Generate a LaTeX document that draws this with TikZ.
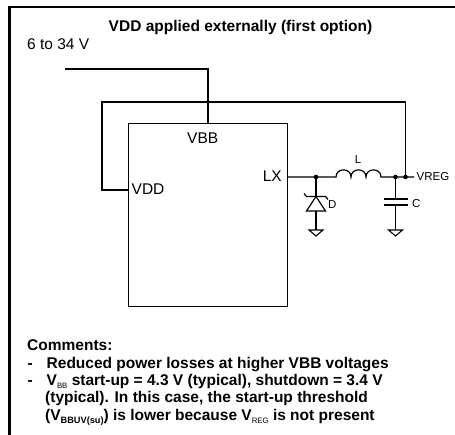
\documentclass[tikz,border=0pt]{standalone}
\usepackage{fontspec}
\setmainfont{Liberation Sans}
\newcommand\mysubr[1]{\raisebox{-3pt}{\fontsize{7.8}{8}\selectfont\mdseries #1}}
\newcommand\mysubb[1]{\raisebox{-3pt}{\fontsize{9.2}{9}\selectfont\bfseries #1}}
\tikzset{
  wire/.style={line width=1.2pt, line join=miter},
  txt/.style={inner sep=0pt, font=\fontsize{15.5}{17}\selectfont},
  smalltxt/.style={inner sep=0pt, font=\fontsize{11.5}{12}\selectfont},
  jdot/.style={circle, fill=black, inner sep=0pt, minimum size=4.6pt},
  gnd/.style={line width=1.1pt, line join=miter}
}
\begin{document}
\begin{tikzpicture}[x=1pt,y=-1pt]
\useasboundingbox (0,0) rectangle (455,435);
% frame
\draw[line width=2.2pt] (9.5,440) -- (9.5,7.2) -- (460,7.2);
% texts
\node[txt, anchor=base] (title) at (240.5,32) {\bfseries VDD applied externally (first option)};
\node[txt, anchor=base west] (supply) at (27,50) {6 to 34 V};
% chip
\node[draw, wire, minimum width=159pt, minimum height=183pt, inner sep=0pt, anchor=north west] (chip) at (128,123) {};
\node[txt, anchor=base west] (vbbl) at (187,144) {VBB};
\node[txt, anchor=base west] (vddl) at (131.5,195) {VDD};
\node[txt, anchor=base east] (lxl) at (282,181.5) {LX};
% coordinates
\coordinate (vin) at (65,69);
\coordinate (vbbpin) at (208,123);
\coordinate (vddpin) at (128,190);
\coordinate (loopbl) at (102,190);
\coordinate (looptl) at (102,102);
\coordinate (looptr) at (405.5,102);
\coordinate (lxpin) at (287,177);
\coordinate (jd) at (316,177);
\coordinate (lstart) at (336,177);
\coordinate (jc) at (395.5,177);
\coordinate (jv) at (405.5,177);
\coordinate (vregend) at (414,177);
% wires
\draw[wire] (vin) -| (vbbpin);
\draw[wire] (vddpin) -- (loopbl) -- (looptl) -- (looptr) -- (jv);
\draw[wire] (lxpin) -- (lstart)
  .. controls +(0,-9.5) and +(0,-9.5) .. ++(15,0)
  .. controls +(0,-9.5) and +(0,-9.5) .. ++(15,0)
  .. controls +(0,-9.5) and +(0,-9.5) .. ++(15,0)
  -- (jv) -- (vregend);
% diode
\coordinate (dk) at (316,196.5);
\coordinate (da) at (316,211);
\coordinate (dg) at (316,230);
\draw[wire] (jd) -- (dk);
\draw[wire] (dk) -- (306.5,211) -- (325.5,211) -- cycle;
\draw[wire] (304,193.5) -- (306.5,196.5) -- (325.5,196.5) -- (328,199.5);
\draw[wire] (da) -- (dg);
\draw[gnd] (309,230) -- (323,230) -- (316,236) -- cycle;
% capacitor
\coordinate (ct) at (395.5,199);
\coordinate (cb) at (395.5,205);
\coordinate (cg) at (395.5,230);
\draw[wire] (jc) -- (ct);
\draw[line width=1.6pt] (383.5,199) -- (407.5,199);
\draw[line width=1.6pt] (383.5,205) -- (407.5,205);
\draw[wire] (cb) -- (cg);
\draw[gnd] (388.5,230) -- (402.5,230) -- (395.5,236) -- cycle;
% dots
\node[jdot] (d1) at (jd) {};
\node[jdot] (d2) at (jc) {};
\node[jdot] (d3) at (jv) {};
% small labels
\node[smalltxt, anchor=base] (ll) at (358,164) {L};
\node[smalltxt, anchor=base west] (dl) at (328,209) {D};
\node[smalltxt, anchor=base west] (cl) at (412,208) {C};
\node[smalltxt, anchor=base west] (vregl) at (416.5,181) {VREG};
% comments
\node[txt, anchor=base west] (c0) at (27,351) {\bfseries Comments:};
\node[txt, anchor=base west] (h1) at (27.5,368.3) {\bfseries -};
\node[txt, anchor=base west] (c1) at (46.5,368.3) {\bfseries Reduced power losses at higher VBB voltages};
\node[txt, anchor=base west] (h2) at (27.5,385.6) {\bfseries -};
\node[txt, anchor=base west] (c2) at (46.5,385.6) {\bfseries V\mysubr{BB} start-up = 4.3 V (typical), shutdown = 3.4 V};
\node[txt, anchor=base west] (c3) at (45,402.9) {\bfseries (typical). In this case, the start-up threshold};
\node[txt, anchor=base west] (c4) at (45,420.2) {\bfseries (V\mysubb{BBUV(su)}) is lower because V\mysubr{REG} is not present};
\end{tikzpicture}
\end{document}
